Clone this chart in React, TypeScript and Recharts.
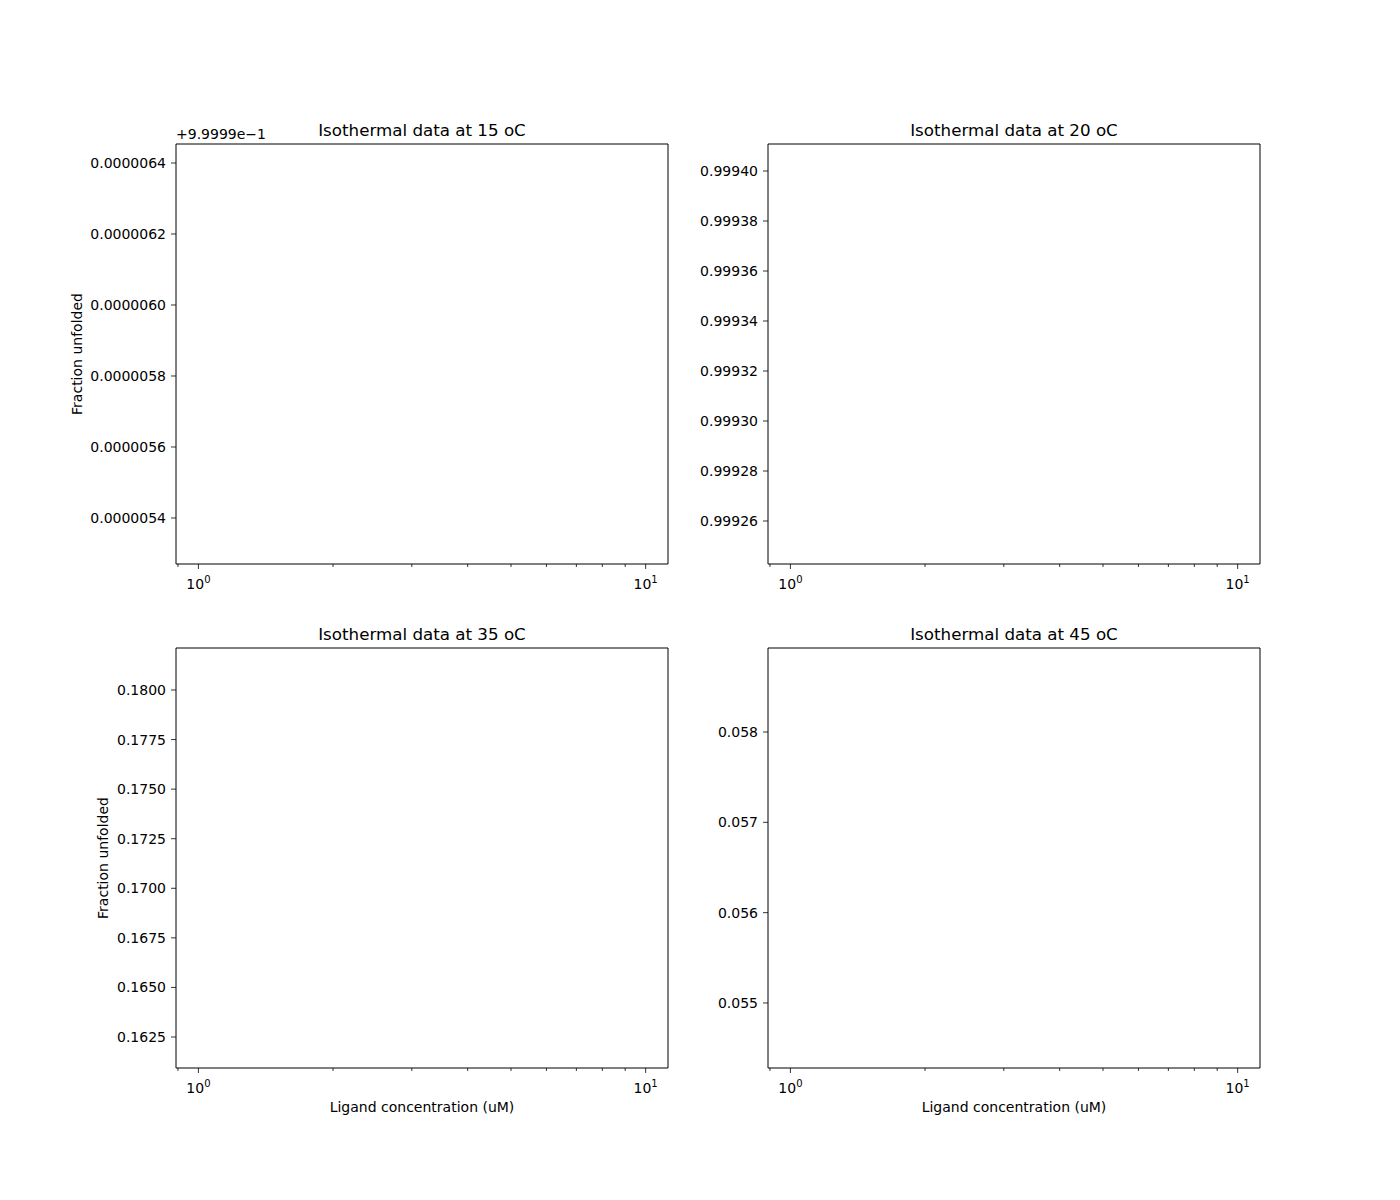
import React from 'react';
import { ScatterChart, Scatter, XAxis, YAxis, ReferenceArea } from 'recharts';

// ligand concentrations (uM) and fraction unfolded, per temperature – nothing is plotted in the figure
const conc15: { conc: number; frac: number }[] = [];
const conc20: { conc: number; frac: number }[] = [];
const conc35: { conc: number; frac: number }[] = [];
const conc45: { conc: number; frac: number }[] = [];

const xDomain = [0.891, 11.22];
const majorTicks = [1, 10];
const minorTicks = [0.9, 2, 3, 4, 5, 6, 7, 8, 9];

const yTicks15 = [0.9999954, 0.9999956, 0.9999958, 0.999996, 0.9999962, 0.9999964];
const yTicks20 = [0.99926, 0.99928, 0.9993, 0.99932, 0.99934, 0.99936, 0.99938, 0.9994];
const yTicks35 = [0.1625, 0.165, 0.1675, 0.17, 0.1725, 0.175, 0.1775, 0.18];
const yTicks45 = [0.055, 0.056, 0.057, 0.058];

const yDomain15 = [0.9999952704, 0.9999964535];
const yDomain20 = [0.9992428, 0.9994108];
const yDomain35 = [0.160937, 0.182118];
const yDomain45 = [0.05428, 0.05893];

const FONT = '"DejaVu Sans", sans-serif';

const LogTick = (props: any) => {
  const { x, y, payload } = props;
  const v = payload.value;
  const major = majorTicks.includes(v);
  return (
    <g>
      <line x1={x} x2={x} y1={y} y2={y + (major ? 5 : 3)} stroke="#000" strokeWidth={0.8} />
      {major && (
        <text x={x} y={y + 25} textAnchor="middle" fontSize={14} fill="#000" fontFamily={FONT}>
          10
          <tspan dy={-6} fontSize={10}>{Math.round(Math.log10(v))}</tspan>
        </text>
      )}
    </g>
  );
};

interface PanelProps {
  left: number;
  top: number;
  data: { conc: number; frac: number }[];
  yDomain: number[];
  yTicks: number[];
  fmt: (v: number) => string;
}

const Panel: React.FC<PanelProps> = ({ left, top, data, yDomain, yTicks, fmt }) => (
  <div style={{ position: 'absolute', left, top: top - 44 }}>
    <ScatterChart width={700} height={540} margin={{ top: 44, right: 32, bottom: 36, left: 0 }}>
      <XAxis
        type="number"
        dataKey="conc"
        scale="log"
        domain={xDomain}
        allowDataOverflow
        ticks={[...minorTicks, ...majorTicks]}
        interval={0}
        tick={<LogTick />}
        tickLine={false}
        tickSize={0}
        tickMargin={0}
        axisLine={false}
        height={40}
      />
      <YAxis
        type="number"
        dataKey="frac"
        domain={yDomain}
        allowDataOverflow
        ticks={yTicks}
        interval={0}
        tickFormatter={fmt}
        width={176}
        tickSize={5}
        tickMargin={5}
        axisLine={false}
        tickLine={{ stroke: '#000', strokeWidth: 0.8 }}
        tick={{ fill: '#000', fontSize: 14, fontFamily: FONT }}
      />
      <ReferenceArea
        x1={xDomain[0]}
        x2={xDomain[1]}
        y1={yDomain[0]}
        y2={yDomain[1]}
        fill="none"
        fillOpacity={0}
        stroke="#000"
        strokeWidth={1}
        ifOverflow="visible"
      />
      <Scatter data={data} fill="#1f77b4" isAnimationActive={false} />
    </ScatterChart>
  </div>
);

export default function App() {
  return (
    <div style={{ position: 'absolute', left: 0, top: 0, width: 1400, height: 1200, background: '#fff', fontFamily: FONT }}>
      <Panel left={0} top={144} data={conc15} yDomain={yDomain15} yTicks={yTicks15} fmt={(v) => (v - 0.99999).toFixed(7)} />
      <Panel left={592} top={144} data={conc20} yDomain={yDomain20} yTicks={yTicks20} fmt={(v) => v.toFixed(5)} />
      <Panel left={0} top={648} data={conc35} yDomain={yDomain35} yTicks={yTicks35} fmt={(v) => v.toFixed(4)} />
      <Panel left={592} top={648} data={conc45} yDomain={yDomain45} yTicks={yTicks45} fmt={(v) => v.toFixed(3)} />
      <svg width={1400} height={1200} style={{ position: 'absolute', left: 0, top: 0, pointerEvents: 'none' }}>
        <g fontFamily={FONT} fill="#000">
          <text x={422} y={136} textAnchor="middle" fontSize={16.7}>Isothermal data at 15 oC</text>
          <text x={1014} y={136} textAnchor="middle" fontSize={16.7}>Isothermal data at 20 oC</text>
          <text x={422} y={640} textAnchor="middle" fontSize={16.7}>Isothermal data at 35 oC</text>
          <text x={1014} y={640} textAnchor="middle" fontSize={16.7}>Isothermal data at 45 oC</text>
          <text x={176} y={139} fontSize={14}>+9.9999e−1</text>
          <text x={422} y={1112} textAnchor="middle" fontSize={14}>Ligand concentration (uM)</text>
          <text x={1014} y={1112} textAnchor="middle" fontSize={14}>Ligand concentration (uM)</text>
          <text x={82} y={354} textAnchor="middle" fontSize={14} transform="rotate(-90 82 354)">Fraction unfolded</text>
          <text x={108} y={858} textAnchor="middle" fontSize={14} transform="rotate(-90 108 858)">Fraction unfolded</text>
        </g>
      </svg>
    </div>
  );
}
